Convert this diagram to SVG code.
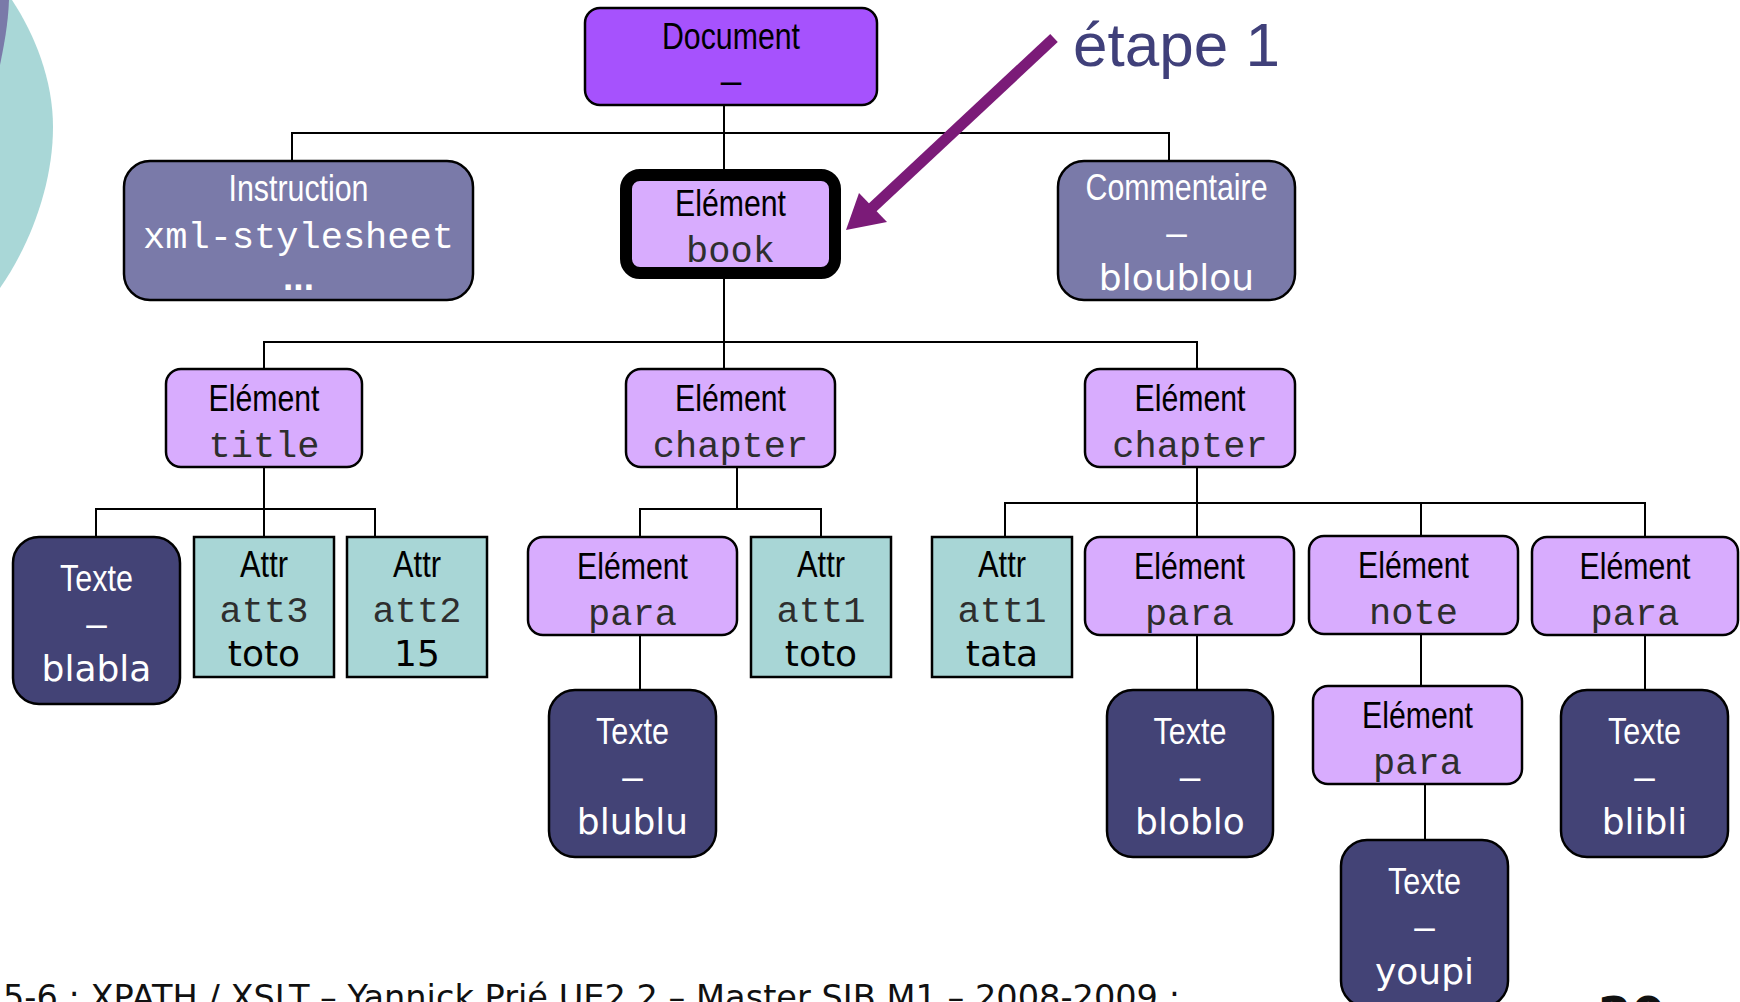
<svg xmlns="http://www.w3.org/2000/svg" width="1740" height="1002" viewBox="0 0 1740 1002">
  <style>
    .lbl { font-family: "Liberation Sans Narrow", "Liberation Sans", Arial, sans-serif; font-size: 37px; text-anchor: middle; }
    .mono { font-family: "Liberation Mono", "Courier New", monospace; font-size: 37px; text-anchor: middle; fill: #2e2e2e; }
    .val { font-family: "DejaVu Sans", Verdana, sans-serif; font-size: 36px; text-anchor: middle; fill: #000; }
    .w { fill: #fff; }
    .k { fill: #000; }
    .conn { stroke: #000; stroke-width: 2; fill: none; }
    .box { stroke: #000; stroke-width: 2.5; }
    .doc { fill: #a652fd; }
    .elem { fill: #d8acfe; }
    .pi { fill: #7a7aa9; }
    .txt { fill: #434376; }
    .attr { fill: #a8d6d6; }
  </style>

  <!-- slide template decoration, top-left corner -->
  <g id="decor">
    <path d="M0,0 H12 C35,35 53,80 53,127 C53,185 30,245 0,288 Z" fill="#a9d7d7"/>
    <path d="M0,0 H9 C8,25 4,45 0,65 Z" fill="#7a7aa9"/>
  </g>

  <!-- tree connectors -->
  <g id="connectors" class="conn">
    <path d="M724,105 V169"/>
    <path d="M292,161 V133 H1169 V161"/>
    <path d="M724,279 V369"/>
    <path d="M264,369 V342 H1197 V369"/>
    <path d="M264,467 V537"/>
    <path d="M96,537 V509 H375 V537"/>
    <path d="M737,467 V509"/>
    <path d="M640,537 V509 H821 V537"/>
    <path d="M640,635 V690"/>
    <path d="M1197,467 V537"/>
    <path d="M1005,537 V503 H1645 V537"/>
    <path d="M1421,503 V536"/>
    <path d="M1197,635 V690"/>
    <path d="M1421,634 V686"/>
    <path d="M1645,635 V690"/>
    <path d="M1425,784 V840"/>
  </g>

  <g id="n-document">
    <rect class="box doc" x="585" y="8" width="292" height="97" rx="15"/>
    <text class="lbl k" x="731" y="49" textLength="138" lengthAdjust="spacingAndGlyphs">Document</text>
    <text class="lbl k" x="731" y="93">–</text>
  </g>

  <g id="n-instruction">
    <rect class="box pi" x="124" y="161" width="349" height="139" rx="26"/>
    <text class="lbl w" x="298.5" y="201" textLength="140" lengthAdjust="spacingAndGlyphs">Instruction</text>
    <text class="mono" x="298.5" y="248" style="fill:#fff">xml-stylesheet</text>
    <text class="w" x="298.5" y="290" text-anchor="middle" font-family="Liberation Sans, Arial, sans-serif" font-weight="bold" font-size="37">...</text>
  </g>

  <g id="n-book">
    <rect class="elem" x="626" y="175" width="209" height="98" rx="14" stroke="#000" stroke-width="12"/>
    <text class="lbl k" x="730.5" y="216" textLength="111" lengthAdjust="spacingAndGlyphs">Elément</text>
    <text class="mono" x="730.5" y="262">book</text>
  </g>

  <g id="n-comment">
    <rect class="box pi" x="1058" y="161" width="237" height="139" rx="26"/>
    <text class="lbl w" x="1176.5" y="200" textLength="182" lengthAdjust="spacingAndGlyphs">Commentaire</text>
    <text class="lbl w" x="1176.5" y="245">–</text>
    <text class="val" x="1176.5" y="290" style="fill:#fff">bloublou</text>
  </g>

  <g id="n-title">
    <rect class="box elem" x="166" y="369" width="196" height="98" rx="15"/>
    <text class="lbl k" x="264" y="411" textLength="111" lengthAdjust="spacingAndGlyphs">Elément</text>
    <text class="mono" x="264" y="457">title</text>
  </g>

  <g id="n-chapter-1">
    <rect class="box elem" x="626" y="369" width="209" height="98" rx="15"/>
    <text class="lbl k" x="730.5" y="411" textLength="111" lengthAdjust="spacingAndGlyphs">Elément</text>
    <text class="mono" x="730.5" y="457">chapter</text>
  </g>

  <g id="n-chapter-2">
    <rect class="box elem" x="1085" y="369" width="210" height="98" rx="15"/>
    <text class="lbl k" x="1190" y="411" textLength="111" lengthAdjust="spacingAndGlyphs">Elément</text>
    <text class="mono" x="1190" y="457">chapter</text>
  </g>

  <g id="n-text-blabla">
    <rect class="box txt" x="13" y="537" width="167" height="167" rx="26"/>
    <text class="lbl w" x="96.5" y="591" textLength="73" lengthAdjust="spacingAndGlyphs">Texte</text>
    <text class="lbl w" x="96.5" y="636">–</text>
    <text class="val" x="96.5" y="681" style="fill:#fff">blabla</text>
  </g>

  <g id="n-attr-att3">
    <rect class="box attr" x="194" y="537" width="140" height="140"/>
    <text class="lbl k" x="264" y="577" textLength="48" lengthAdjust="spacingAndGlyphs">Attr</text>
    <text class="mono" x="264" y="622">att3</text>
    <text class="val" x="264" y="666">toto</text>
  </g>

  <g id="n-attr-att2">
    <rect class="box attr" x="347" y="537" width="140" height="140"/>
    <text class="lbl k" x="417" y="577" textLength="48" lengthAdjust="spacingAndGlyphs">Attr</text>
    <text class="mono" x="417" y="622">att2</text>
    <text class="val" x="417" y="666">15</text>
  </g>

  <g id="n-para-1">
    <rect class="box elem" x="528" y="537" width="209" height="98" rx="15"/>
    <text class="lbl k" x="632.5" y="579" textLength="111" lengthAdjust="spacingAndGlyphs">Elément</text>
    <text class="mono" x="632.5" y="625">para</text>
  </g>

  <g id="n-attr-att1-toto">
    <rect class="box attr" x="751" y="537" width="140" height="140"/>
    <text class="lbl k" x="821" y="577" textLength="48" lengthAdjust="spacingAndGlyphs">Attr</text>
    <text class="mono" x="821" y="622">att1</text>
    <text class="val" x="821" y="666">toto</text>
  </g>

  <g id="n-text-blublu">
    <rect class="box txt" x="549" y="690" width="167" height="167" rx="26"/>
    <text class="lbl w" x="632.5" y="744" textLength="73" lengthAdjust="spacingAndGlyphs">Texte</text>
    <text class="lbl w" x="632.5" y="789">–</text>
    <text class="val" x="632.5" y="834" style="fill:#fff">blublu</text>
  </g>

  <g id="n-attr-att1-tata">
    <rect class="box attr" x="932" y="537" width="140" height="140"/>
    <text class="lbl k" x="1002" y="577" textLength="48" lengthAdjust="spacingAndGlyphs">Attr</text>
    <text class="mono" x="1002" y="622">att1</text>
    <text class="val" x="1002" y="666">tata</text>
  </g>

  <g id="n-para-2">
    <rect class="box elem" x="1085" y="537" width="209" height="98" rx="15"/>
    <text class="lbl k" x="1189.5" y="579" textLength="111" lengthAdjust="spacingAndGlyphs">Elément</text>
    <text class="mono" x="1189.5" y="625">para</text>
  </g>

  <g id="n-note">
    <rect class="box elem" x="1309" y="536" width="209" height="98" rx="15"/>
    <text class="lbl k" x="1413.5" y="578" textLength="111" lengthAdjust="spacingAndGlyphs">Elément</text>
    <text class="mono" x="1413.5" y="624">note</text>
  </g>

  <g id="n-para-3">
    <rect class="box elem" x="1532" y="537" width="206" height="98" rx="15"/>
    <text class="lbl k" x="1635" y="579" textLength="111" lengthAdjust="spacingAndGlyphs">Elément</text>
    <text class="mono" x="1635" y="625">para</text>
  </g>

  <g id="n-text-bloblo">
    <rect class="box txt" x="1107" y="690" width="166" height="167" rx="26"/>
    <text class="lbl w" x="1190" y="744" textLength="73" lengthAdjust="spacingAndGlyphs">Texte</text>
    <text class="lbl w" x="1190" y="789">–</text>
    <text class="val" x="1190" y="834" style="fill:#fff">bloblo</text>
  </g>

  <g id="n-para-4">
    <rect class="box elem" x="1313" y="686" width="209" height="98" rx="15"/>
    <text class="lbl k" x="1417.5" y="728" textLength="111" lengthAdjust="spacingAndGlyphs">Elément</text>
    <text class="mono" x="1417.5" y="774">para</text>
  </g>

  <g id="n-text-blibli">
    <rect class="box txt" x="1561" y="690" width="167" height="167" rx="26"/>
    <text class="lbl w" x="1644.5" y="744" textLength="73" lengthAdjust="spacingAndGlyphs">Texte</text>
    <text class="lbl w" x="1644.5" y="789">–</text>
    <text class="val" x="1644.5" y="834" style="fill:#fff">blibli</text>
  </g>

  <g id="n-text-youpi">
    <rect class="box txt" x="1341" y="840" width="167" height="167" rx="26"/>
    <text class="lbl w" x="1424.5" y="894" textLength="73" lengthAdjust="spacingAndGlyphs">Texte</text>
    <text class="lbl w" x="1424.5" y="939">–</text>
    <text class="val" x="1424.5" y="984" style="fill:#fff">youpi</text>
  </g>

  <!-- step annotation pointing at the book element -->
  <g id="step-callout">
    <line x1="1054" y1="38" x2="872" y2="208" stroke="#7b1b78" stroke-width="11"/>
    <polygon points="846,230 859,193 887,222" fill="#7b1b78"/>
    <text x="1073" y="66" font-family="Liberation Sans, Arial, sans-serif" font-size="62" fill="#40407a">étape 1</text>
  </g>

  <!-- slide footer -->
  <g id="footer">
    <text x="3" y="1009" font-family="DejaVu Sans, Verdana, sans-serif" font-size="33.3" fill="#111" textLength="1177" lengthAdjust="spacingAndGlyphs">5-6 : XPATH / XSLT – Yannick Prié UE2.2 – Master SIB M1 – 2008-2009 :</text>
    <text x="1598" y="1031" font-family="DejaVu Sans, Verdana, sans-serif" font-size="48" font-weight="bold" fill="#111">20</text>
  </g>
</svg>
